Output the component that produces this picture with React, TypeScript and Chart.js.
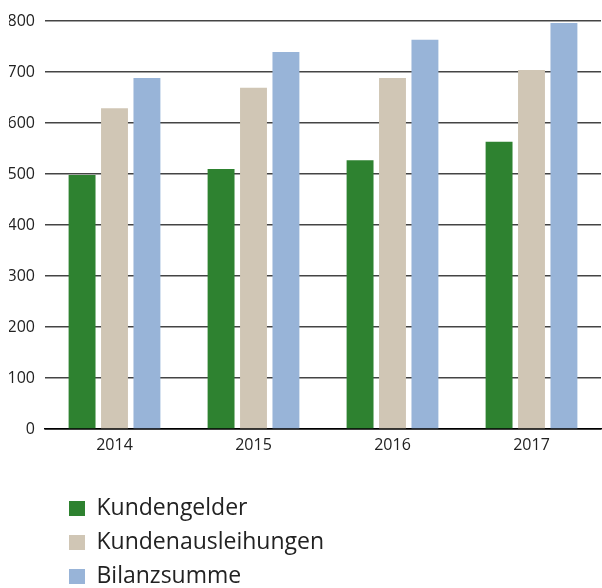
import React, { useEffect, useRef } from "react";
import { Chart, registerables } from "chart.js";

Chart.register(...registerables);

const categories = ["2014", "2015", "2016", "2017"];
const kundengelder = [498, 510, 527, 563];
const kundenausleihungen = [629, 669, 688, 704];
const bilanzsumme = [688, 739, 763, 796];
const seriesNames = ["Kundengelder", "Kundenausleihungen", "Bilanzsumme"];
const seriesColors = ["#2E8230", "#D0C6B5", "#98B4D8"];

const FONT = "'Open Sans', 'DejaVu Sans', sans-serif";

// Forces the bottom legend to stack its items one per row and moves it to the left inset.
const stackedLegend = {
  id: "stackedLegend",
  beforeLayout(chart: any) {
    const lg = chart.legend;
    if (lg && !lg.__stacked) {
      const orig = lg.update.bind(lg);
      lg.update = (w: number, h: number, m: any) => orig(Math.min(w, 300), h, m);
      lg.__stacked = true;
    }
  },
  afterLayout(chart: any) {
    const lg = chart.legend;
    if (lg) {
      lg.left = 58;
      lg.right = 58 + 300;
      lg.top = lg.top + 10;
      lg.bottom = lg.bottom + 10;
    }
  },
};

export default function App() {
  const ref = useRef<HTMLCanvasElement | null>(null);

  useEffect(() => {
    document.body.style.margin = "0";
    if (!ref.current) return;
    const chart = new Chart(ref.current, {
      type: "bar",
      data: {
        labels: categories,
        datasets: [kundengelder, kundenausleihungen, bilanzsumme].map((d, i) => ({
          label: seriesNames[i],
          data: d,
          backgroundColor: seriesColors[i],
          borderWidth: 0,
          barPercentage: 0.83,
          categoryPercentage: 0.7,
        })),
      },
      options: {
        responsive: false,
        animation: false,
        layout: { padding: { top: 21, left: 9, right: 1, bottom: 0 } },
        plugins: {
          tooltip: { enabled: false },
          legend: {
            position: "bottom",
            align: "start",
            labels: {
              boxWidth: 16,
              boxHeight: 15,
              padding: 11,
              color: "#222",
              font: { family: FONT, size: 23 },
            },
          },
        },
        scales: {
          x: {
            grid: { display: false, drawTicks: false },
            border: { display: true, color: "#000", width: 1.5 },
            ticks: { color: "#222", padding: 7, font: { family: FONT, size: 16 } },
            afterFit: (scale: any) => {
              scale.height = 47;
            },
          },
          y: {
            min: 0,
            max: 800,
            grid: {
              drawTicks: false,
              color: (ctx: any) => (ctx.tick && ctx.tick.value === 0 ? "#000" : "#444"),
              lineWidth: 1.5,
            },
            border: { display: false },
            ticks: {
              stepSize: 100,
              color: "#222",
              padding: 10,
              font: { family: FONT, size: 16 },
            },
            afterFit: (scale: any) => {
              scale.width = 36;
            },
          },
        },
      },
      plugins: [stackedLegend],
    });
    return () => chart.destroy();
  }, []);

  return (
    <div style={{ width: 602, height: 588 }}>
      <canvas ref={ref} width={602} height={588} />
    </div>
  );
}
